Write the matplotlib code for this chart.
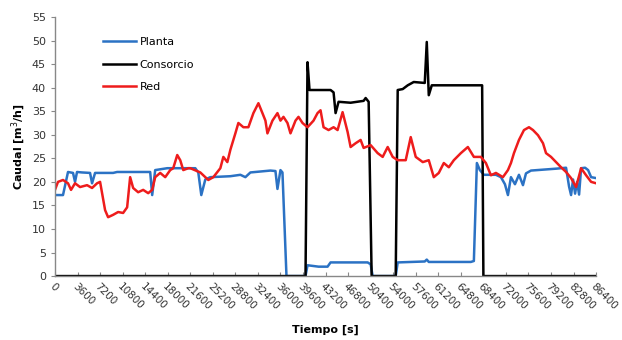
import numpy as np
import matplotlib.pyplot as plt

# Caudal vs tiempo
planta_t = [0, 1280, 2080, 2880, 3200, 3520, 4320, 5600, 5920, 6400, 9280, 9920, 15200, 15520,
            16000, 17920, 22400, 22880, 23360, 24000, 24800, 28000, 29600, 30400, 31200, 34400,
            35200, 35520, 36000, 36320, 36960, 40000, 40320, 42080, 43520, 44000, 49920, 50400,
            50720, 54400, 54720, 59040, 59360, 59680, 66400, 66880, 67360, 67840, 68480, 70400,
            71200, 71840, 72320, 72800, 73440, 74080, 74720, 75200, 76000, 80000, 81600, 82080,
            82400, 82720, 83040, 83360, 83680, 84000, 84640, 85120, 85600, 86400]
planta_v = [17.2, 17.2, 22.1, 21.9, 20, 22.1, 22, 21.9, 19.7, 21.9, 21.9, 22.1, 22.1, 17.2,
            22.5, 22.9, 22.9, 22, 17.2, 20.5, 21, 21.2, 21.5, 21, 22, 22.4,
            22.3, 18.5, 22.5, 22, 0, 0, 2.3, 2, 2, 2.9, 2.9, 2.5,
            0, 0, 2.9, 3.1, 3.5, 3, 3, 3.2, 24, 22.5, 21.5, 21.5,
            21, 19.5, 17.2, 21, 19.5, 21.5, 19.3, 21.8, 22.4, 22.8, 23, 19,
            17.2, 20.5, 17.5, 20, 17.3, 22.9, 23, 22.5, 21, 20.8]

consorcio_t = [0, 40000, 40320, 40640, 44000, 44480, 44800, 45280, 47200, 49280, 49600, 50080,
               50560, 54400, 54720, 55520, 56320, 57280, 59040, 59360, 59680, 60160, 68200,
               68400, 86400]
consorcio_v = [0, 0, 45.4, 39.5, 39.5, 39, 34.6, 37, 36.8, 37.2, 37.8, 37,
               0, 0, 39.5, 39.7, 40.5, 41.2, 41, 49.7, 38.4, 40.5, 40.5,
               0, 0]

red_t = [0, 480, 1280, 2080, 2560, 3200, 4000, 5120, 5920, 6720, 7200, 8000, 8480, 9280, 10080,
         10880, 11520, 12000, 12480, 13280, 14080, 14880, 15520, 16000, 16800, 17600, 18400,
         18880, 19520, 20000, 20480, 21280, 21600, 23200, 24480, 25280, 26400, 26880, 27520,
         28000, 28800, 29280, 30080, 30880, 31680, 32480, 33120, 33600, 33920, 34720, 35520,
         36000, 36480, 37120, 37600, 38400, 38880, 39520, 40320, 41280, 41920, 42400, 42880,
         43680, 44480, 45120, 45920, 46720, 47200, 48000, 48800, 49280, 50400, 51520, 52320,
         53120, 53920, 54720, 56000, 56800, 57600, 58720, 59680, 60480, 61280, 62080, 62880,
         63680, 64800, 65920, 66880, 68000, 68800, 69600, 70400, 71520, 72320, 72800, 73280,
         74080, 74880, 75680, 76320, 77120, 77920, 78400, 79200, 80000, 80800, 81600, 82400,
         83200, 84000, 84800, 85600, 86400]
red_v = [18.3, 20, 20.4, 19.7, 18.3, 19.7, 18.9, 19.3, 18.7, 19.7, 20, 14, 12.5, 13, 13.6,
         13.4, 14.6, 21, 18.7, 17.8, 18.3, 17.6, 18.3, 21, 21.9, 21, 22.5,
         22.9, 25.7, 24.6, 22.5, 22.9, 22.9, 22, 20.4, 21, 22.9, 25.3, 24.2,
         26.8, 30.3, 32.5, 31.6, 31.6, 34.6, 36.7, 34.6, 33, 30.3, 33, 34.6,
         33, 33.8, 32.5, 30.3, 33, 33.8, 32.5, 31.6, 33, 34.6, 35.2, 31.6,
         31, 31.6, 31, 34.8, 30.6, 27.4, 28.2, 28.9, 27.2, 27.8, 26.1, 25.3,
         27.4, 25.3, 24.6, 24.6, 29.5, 25.3, 24.2, 24.6, 21, 21.9, 24, 23.1,
         24.6, 26.1, 27.4, 25.3, 25.3, 24, 21.4, 21.9, 21, 22.5, 24, 26.1,
         28.9, 31, 31.6, 31, 29.9, 28.2, 26.1, 25.3, 24.2, 23.1, 22.1, 20.8,
         18.9, 22.9, 21.4, 20, 19.7]

x_ticks = np.arange(0, 86401, 3600)
y_ticks = np.arange(0, 56, 5)

fig = plt.figure(figsize=(6.22, 3.40), dpi=100)
ax = fig.add_axes([0.0884, 0.188, 0.870, 0.762])

ax.plot(planta_t, planta_v, color='#2B72C4', lw=1.8, label='Planta')
ax.plot(consorcio_t, consorcio_v, color='black', lw=1.8, label='Consorcio')
ax.plot(red_t, red_v, color='#EE1C1C', lw=1.8, label='Red')

ax.set_xlim(0, 86400)
ax.set_ylim(0, 55)
ax.set_xticks(x_ticks)
ax.set_xticklabels([str(v) for v in x_ticks], rotation=-45, ha='left', va='top',
                   rotation_mode='anchor', fontsize=7.5, color='#333333')
ax.set_yticks(y_ticks)
ax.set_yticklabels([str(v) for v in y_ticks], fontsize=8, color='#333333')
ax.tick_params(axis='x', direction='in', length=3, color='#888888', pad=4)
ax.tick_params(axis='y', direction='out', length=3, color='#888888')

for s in ['top', 'right']:
    ax.spines[s].set_visible(False)
for s in ['left', 'bottom']:
    ax.spines[s].set_color('#888888')
    ax.spines[s].set_linewidth(1.0)

ax.set_xlabel('Tiempo [s]', fontsize=8, fontweight='bold', labelpad=9)
ax.set_ylabel('Caudal [m$^3$/h]', fontsize=8, fontweight='bold', labelpad=3)

ax.legend(loc='upper left', bbox_to_anchor=(0.07, 0.96), frameon=False, fontsize=8,
          handlelength=3.0, labelspacing=1.1, handletextpad=0.3)

fig.savefig('out.png', dpi=100)
